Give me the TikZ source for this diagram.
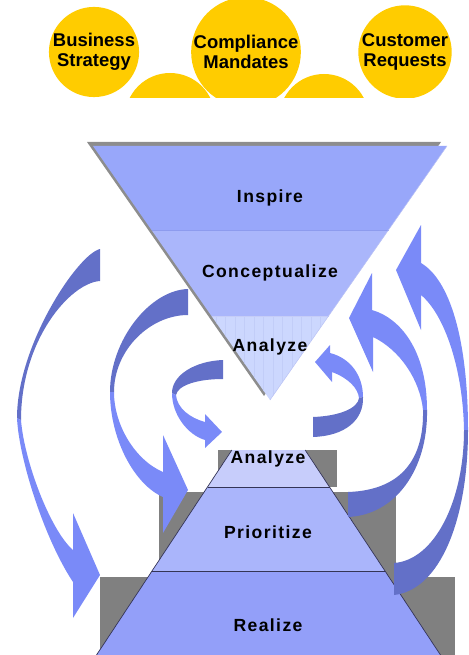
\documentclass[tikz,border=0pt]{standalone}
\usepackage{fontspec}
\setmainfont{Liberation Sans}
\newfontfamily\spacedfont[LetterSpace=8]{Liberation Sans}

\definecolor{sunyellow}{HTML}{FFCC00}
\definecolor{inspirefill}{HTML}{98A7FA}
\definecolor{conceptfill}{HTML}{AAB6FB}
\definecolor{analyzefill}{HTML}{CCD7FE}
\definecolor{analyzestripe}{HTML}{C2CDF8}
\definecolor{bandline}{HTML}{8D9BEE}
\definecolor{analyzelowfill}{HTML}{C7CDFB}
\definecolor{prioritizefill}{HTML}{AAB5FB}
\definecolor{realizefill}{HTML}{939FF9}
\definecolor{stepline}{HTML}{343456}
\definecolor{shadowgray}{HTML}{808080}
\definecolor{ribdark}{HTML}{6370C8}
\definecolor{riblight}{HTML}{7A8AF8}

\begin{document}
\begin{tikzpicture}[x=0.02cm, y=-0.02cm,
  sunball/.style={circle, fill=sunyellow, minimum size=1.8cm, inner sep=0pt, align=center,
    font=\fontsize{10.5}{11.6}\selectfont\bfseries},
  phasetext/.style={font=\spacedfont\bfseries, inner sep=0pt},
  ribdarkpart/.style={fill=ribdark},
  riblightpart/.style={fill=riblight}]
  \useasboundingbox (0,0) rectangle (469,655);

  \begin{scope}
    \clip (0,0) rectangle (469,97.5);
    \fill[sunyellow] (170,118) circle [radius=45];
    \fill[sunyellow] (324,119) circle [radius=45];
    \node[sunball] (strategy) at (94,52) {Business\\Strategy};
    \node[sunball] (mandates) at (246,52) {Compliance\\Mandates};
    \node[sunball] (requests) at (405,52) {Customer\\Requests};
  \end{scope}

  \fill[shadowgray!90] (87,142) -- (441,142) -- (264,396) -- cycle;
  \fill[inspirefill] (93,146) -- (447,146) -- (388.5,230) -- (151.5,230) -- cycle;
  \fill[conceptfill] (151.5,230) -- (388.5,230) -- (328.5,316) -- (211.5,316) -- cycle;
  \fill[analyzefill] (211.5,316) -- (328.5,316) -- (270,400) -- cycle;
  \begin{scope}
    \clip (211.5,316) -- (328.5,316) -- (270,400) -- cycle;
    \foreach \x in {216,225.5,...,330}
      \draw[analyzestripe, line width=0.3pt] (\x,316) -- (\x,400);
  \end{scope}
  \draw[bandline] (151.5,230) -- (388.5,230);
  \draw[bandline!50] (211.5,316) -- (328.5,316);
  \draw[bandline!60, line width=0.3pt] (447,146) -- (270,400);

  \fill[shadowgray] (218,450) rectangle (337,487);
  \fill[shadowgray] (159,492) rectangle (396,577);
  \fill[shadowgray] (100,577) rectangle (455,655);
  \fill[analyzelowfill] (231.9,450) -- (305.1,450) -- (329.5,487) -- (207.5,487) -- cycle;
  \fill[prioritizefill] (207.5,487) -- (329.5,487) -- (385,571) -- (152,571) -- cycle;
  \fill[realizefill] (152,571) -- (385,571) -- (440.5,655) -- (96.5,655) -- cycle;
  \draw[stepline, line width=0.4pt] (231.9,450) -- (96.5,655);
  \draw[stepline, line width=0.4pt] (305.1,450) -- (440.5,655);
  \draw[stepline, line width=0.4pt] (207.5,487) -- (329.5,487);
  \draw[stepline, line width=0.4pt] (152,571) -- (385,571);

  \node[phasetext] (inspire) at (270,198) {Inspire};
  \node[phasetext] (conceptualize) at (270,273) {Conceptualize};
  \node[phasetext] (analyzetop) at (270,347) {Analyze};
  \node[phasetext] (analyzelow) at (268,459) {Analyze};
  \node[phasetext] (prioritize) at (268,532) {Prioritize};
  \node[phasetext] (realize) at (268,625) {Realize};

  \fill[ribdarkpart] (100,249) .. controls (78,254) and (17,345) .. (17,418)
    -- (21,420) .. controls (21,340) and (70,283) .. (100,281) -- cycle;
  \fill[riblightpart] (17,418) .. controls (19,460) and (45,540) .. (73,582)
    -- (73,618) -- (100,575) -- (73,513) -- (73,550)
    .. controls (50,530) and (24,460) .. (21,420) -- cycle;

  \fill[ribdarkpart] (188,289) .. controls (150,290) and (110,340) .. (110,392)
    -- (114,392) .. controls (114,350) and (150,315) .. (188,315) -- cycle;
  \fill[riblightpart] (110,392) .. controls (110,440) and (135,485) .. (163,497)
    -- (163,533) -- (188,490) -- (163,435) -- (163,472)
    .. controls (135,460) and (114,425) .. (114,392) -- cycle;

  \fill[ribdarkpart] (223,360) .. controls (195,361) and (172,375) .. (172,393)
    -- (176,395) .. controls (178,385) and (198,379) .. (223,379) -- cycle;
  \fill[riblightpart] (172,393) .. controls (172,415) and (188,435) .. (205,440)
    -- (205,448) -- (222,432) -- (205,414) -- (205,422)
    .. controls (190,418) and (177,408) .. (176,395) -- cycle;

  \fill[riblightpart] (363,397) .. controls (363,375) and (350,358) .. (330,353)
    -- (330,345) -- (315,362) -- (332,382) -- (332,372)
    .. controls (348,378) and (358,388) .. (359,398) -- cycle;
  \fill[ribdarkpart] (363,397) .. controls (364,420) and (345,436) .. (313,437)
    -- (313,417) .. controls (340,416) and (358,408) .. (359,398) -- cycle;

  \fill[riblightpart] (427,410) .. controls (427,350) and (400,318) .. (372,310)
    -- (372,273) -- (349,318) -- (373,372) -- (373,337)
    .. controls (400,350) and (420,380) .. (423,410) -- cycle;
  \fill[ribdarkpart] (427,410) .. controls (428,470) and (395,515) .. (348,517)
    -- (348,492) .. controls (405,490) and (424,455) .. (423,410) -- cycle;

  \fill[riblightpart] (468,430) .. controls (468,340) and (450,280) .. (421,263)
    -- (421,225) -- (396,270) -- (421,330) -- (421,295)
    .. controls (445,315) and (463,370) .. (464,430) -- cycle;
  \fill[ribdarkpart] (468,430) .. controls (468,520) and (440,590) .. (394,595)
    -- (394,563) .. controls (435,560) and (464,500) .. (464,430) -- cycle;
\end{tikzpicture}
\end{document}
